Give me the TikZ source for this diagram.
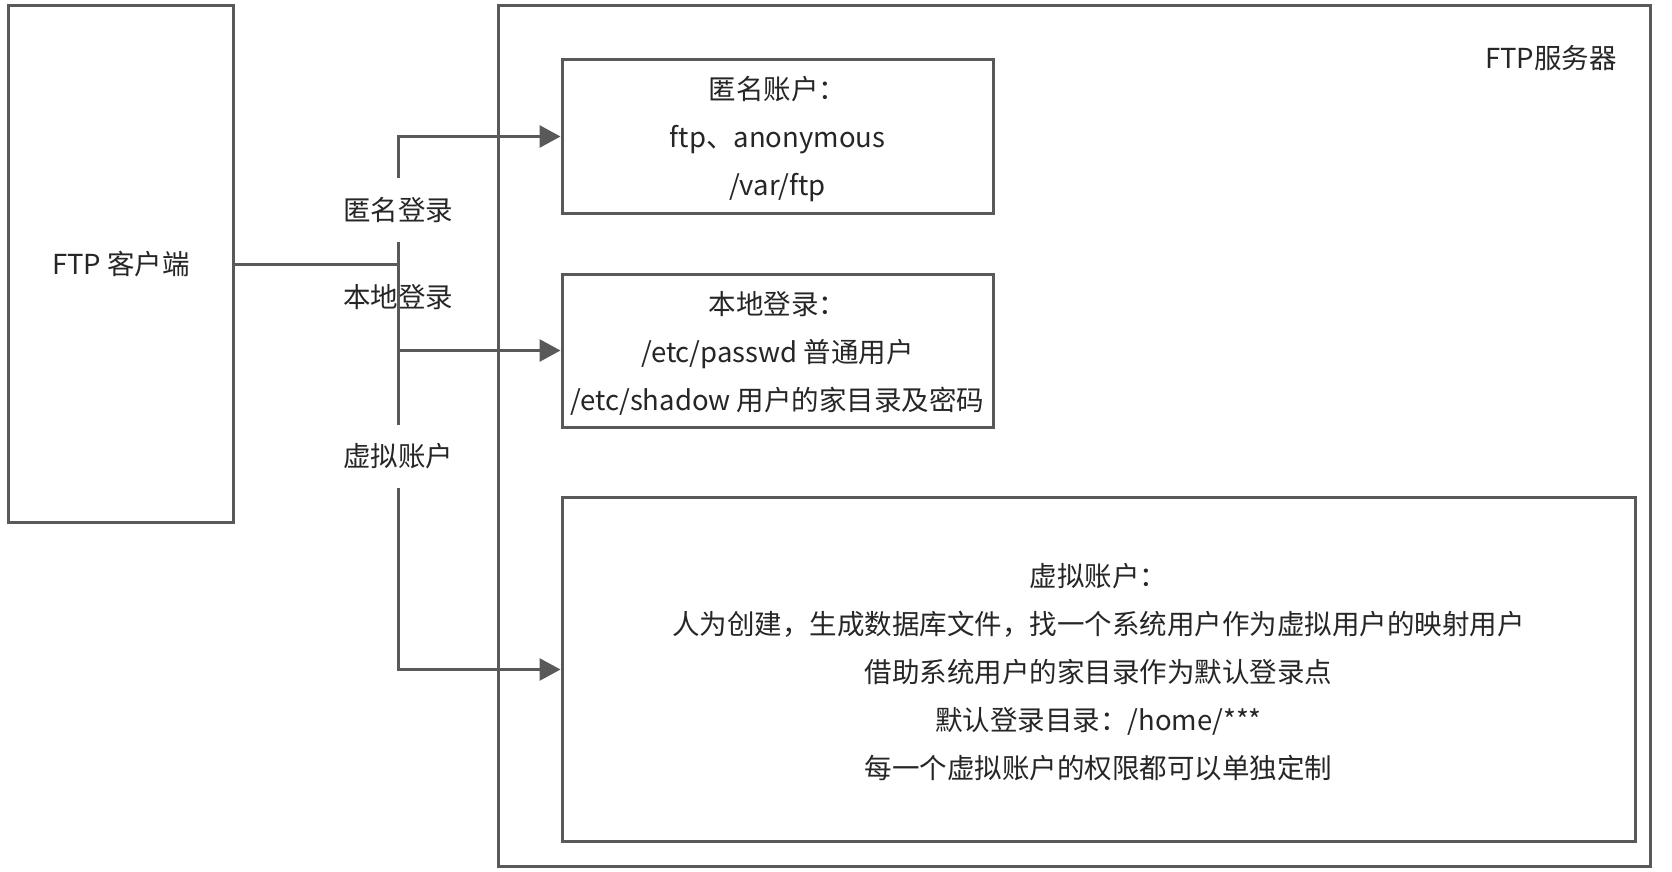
\documentclass[tikz,border=0pt]{standalone}
\usepackage{fontspec}
\setmainfont{Noto Sans CJK SC}
\usetikzlibrary{arrows.meta}
\definecolor{lc}{HTML}{595959}
\definecolor{tc}{HTML}{262626}
\tikzset{
  box/.style={draw=lc, line width=3pt, fill=white, inner sep=0pt},
  btext/.style={align=center, text=tc, inner sep=0pt, yshift=-2.5pt,
    font=\fontsize{27.5}{48}\selectfont},
  conn/.style={draw=lc, line width=3pt, -{Triangle[length=21pt,width=22pt]}},
  lbl/.style={fill=white, text=tc, inner xsep=4pt, inner ysep=19pt, font=\fontsize{27.5}{33}\selectfont},
  plain/.style={text=tc, inner sep=0pt, font=\fontsize{27.5}{33}\selectfont}
}
\begin{document}
\begin{tikzpicture}[x=1pt,y=-1pt]
\useasboundingbox (0,0) rectangle (1672,872);
\node[box, minimum width=225pt, minimum height=517pt] (client) at (121,264) {};
\node[plain] (clientt) at (client.center) {FTP 客户端};
\draw[lc, line width=3pt] (498,5.5) rectangle (1650,866) coordinate (srvbr);
\node[plain, anchor=east] (srv) at (1617,58) {FTP服务器};
\node[box, minimum width=431pt, minimum height=153pt] (anon) at (777.5,136.5) {};
\node[btext] (anont) at (anon.center) {匿名账户：\\ftp、anonymous\\/var/ftp};
\node[box, minimum width=431pt, minimum height=153pt] (local) at (777.5,350.5) {};
\node[btext] (localt) at (local.center) {本地登录：\\/etc/passwd 普通用户\\/etc/shadow 用户的家目录及密码};
\node[box, minimum width=1073pt, minimum height=344pt] (virt) at (1098.5,669.5) {};
\node[btext] (virtt) at (virt.center) {虚拟账户：\\人为创建，生成数据库文件，找一个系统用户作为虚拟用户的映射用户\\借助系统用户的家目录作为默认登录点\\默认登录目录：/home/***\\每一个虚拟账户的权限都可以单独定制};
\coordinate (j) at (398,264);
\draw[conn] (client.east) -- (j) |- (anon.west);
\node[lbl] (l1) at (398,210) {匿名登录};
\draw[conn] (client.east) -- (j) |- (local.west);
\node[lbl] (l2) at (398,297.5) {本地登录};
\draw[conn] (client.east) -- (j) |- (virt.west);
\node[lbl] (l3) at (398,456.5) {虚拟账户};
\end{tikzpicture}
\end{document}
